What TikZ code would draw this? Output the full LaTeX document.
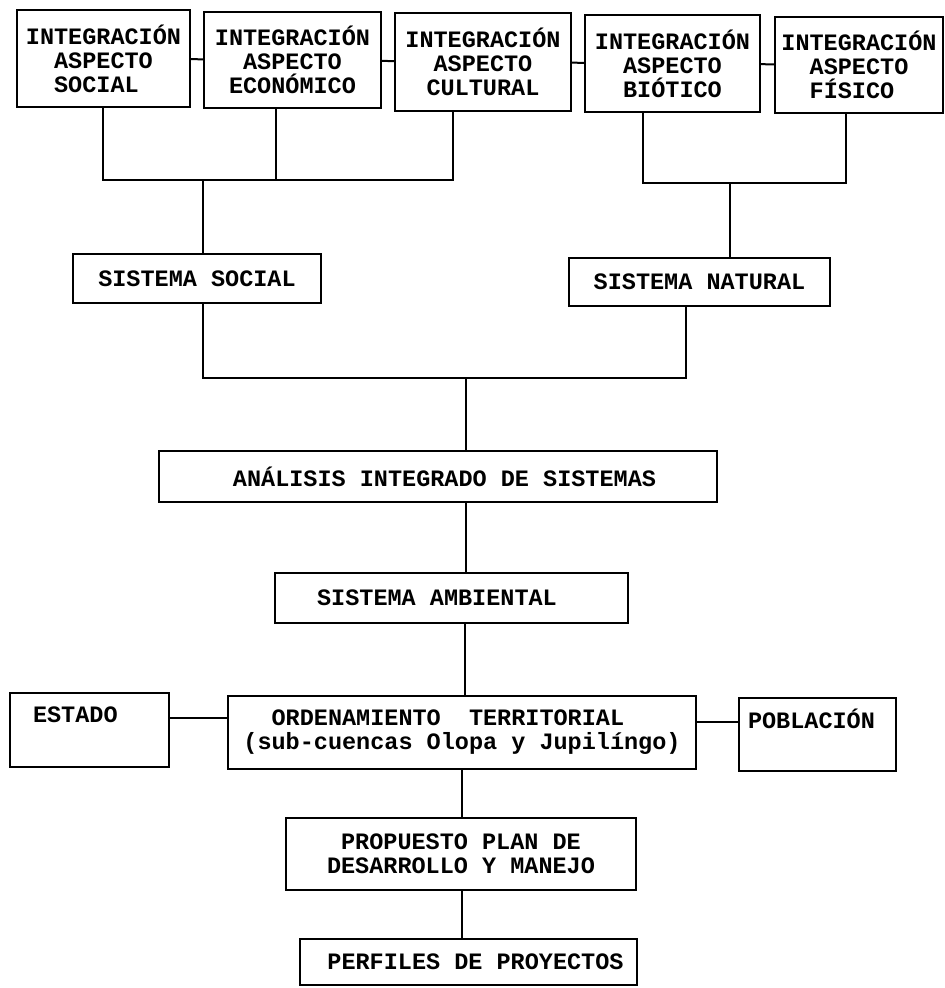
\documentclass[tikz,border=0pt]{standalone}
\usepackage{fontspec}
\setmainfont{Liberation Mono}
\begin{document}
\begin{tikzpicture}[x=1pt,y=-1pt]
\tikzset{
  box/.style={draw, line width=2pt, inner sep=0pt, align=center,
    font=\bfseries\fontsize{23.5}{24}\selectfont},
  conn/.style={line width=2pt}
}
\useasboundingbox (0,0) rectangle (945,988);
% top row
\node[box, minimum width=173pt, minimum height=97pt] (b1) at (103.5,58.5) {INTEGRACIÓN\\ASPECTO\\SOCIAL\phantom{X}};
\node[box, minimum width=177pt, minimum height=96pt] (b2) at (292.5,60) {INTEGRACIÓN\\ASPECTO\\ECONÓMICO};
\node[box, minimum width=176pt, minimum height=98pt] (b3) at (483,62) {INTEGRACIÓN\\ASPECTO\\CULTURAL};
\node[box, minimum width=175pt, minimum height=97pt] (b4) at (672.5,63.5) {INTEGRACIÓN\\ASPECTO\\BIÓTICO};
\node[box, minimum width=168pt, minimum height=96pt] (b5) at (859,65) {INTEGRACIÓN\\ASPECTO\\FÍSICO\phantom{X}};
% systems
\node[box, minimum width=248pt, minimum height=49pt] (ss) at (197,278.5) {SISTEMA SOCIAL};
\node[box, minimum width=261pt, minimum height=48pt] (sn) at (699.5,282) {SISTEMA NATURAL};
\node[box, minimum width=558pt, minimum height=51pt] (ana) at (438,476.5) {\hspace*{13pt}ANÁLISIS INTEGRADO DE SISTEMAS};
\node[box, minimum width=353pt, minimum height=50pt] (amb) at (451.5,598) {SISTEMA AMBIENTAL\hspace*{29pt}};
\node[box, minimum width=159pt, minimum height=74pt, text width=113pt, align=left] (est) at (89.5,730) {ESTADO\\\strut};
\node[box, minimum width=468pt, minimum height=73pt] (ord) at (462,732.5) {ORDENAMIENTO\ \ TERRITORIAL\phantom{XX}\\(sub-cuencas Olopa y Jupilíngo)};
\node[box, minimum width=157pt, minimum height=73pt, text width=139pt, align=left] (pob) at (817.5,734.5) {POBLACIÓN\\\strut};
\node[box, minimum width=350pt, minimum height=72pt] (prop) at (461,854) {PROPUESTO PLAN DE\\DESARROLLO Y MANEJO};
\node[box, minimum width=337pt, minimum height=46pt] (perf) at (468.5,962) {\hspace*{14pt}PERFILES DE PROYECTOS};
% coordinates
\coordinate (sb) at (203,180);
\coordinate (nb) at (730,183);
\coordinate (lb) at (466,378);
\coordinate (sp) at (462,800);
% top row links
\draw[conn] (b1) -- (b2);
\draw[conn] (b2) -- (b3);
\draw[conn] (b3) -- (b4);
\draw[conn] (b4) -- (b5);
% social bus
\draw[conn] ([xshift=-0.5pt]b1.south) |- (sb) -| ([xshift=-30pt]b3.south);
\draw[conn] ([xshift=-16.5pt]b2.south) -- ([xshift=-16.5pt]b2.south |- sb);
\draw[conn] (sb) -- (sb |- ss.north);
% natural bus
\draw[conn] ([xshift=-29.5pt]b4.south) |- (nb) -| ([xshift=-13pt]b5.south);
\draw[conn] (nb) -- (nb |- sn.north);
% lower bus
\draw[conn] ([xshift=6pt]ss.south) |- (lb) -| ([xshift=-13.5pt]sn.south);
\draw[conn] (lb) -- (lb |- ana.north);
\draw[conn] (lb |- ana.south) -- (lb |- amb.north);
\draw[conn] ([xshift=-1pt]lb |- amb.south) -- ([xshift=-1pt]lb |- ord.north);
\draw[conn] (sp |- ord.south) -- (sp |- prop.north);
\draw[conn] (sp |- prop.south) -- (sp |- perf.north);
% side links
\draw[conn] (est.east |- 0,718) -- (ord.west |- 0,718);
\draw[conn] (ord.east |- 0,722) -- (pob.west |- 0,722);
\end{tikzpicture}
\end{document}
